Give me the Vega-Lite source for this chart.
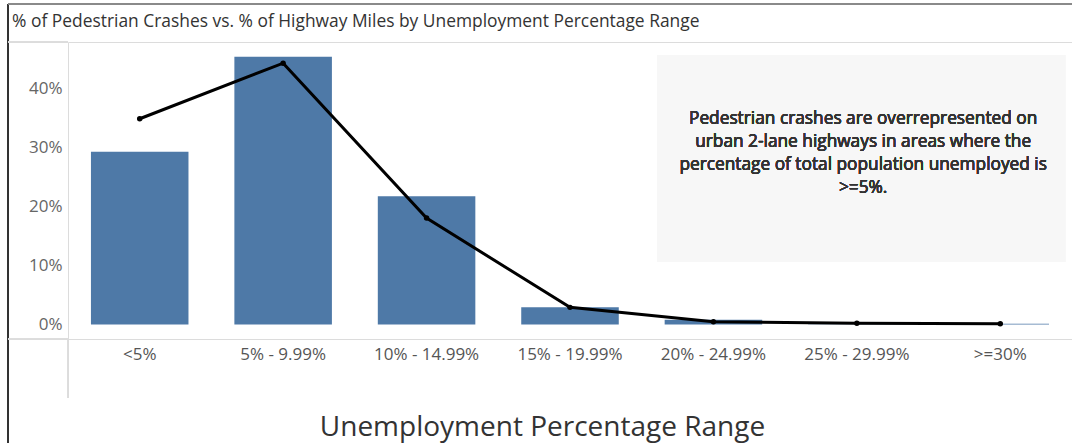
{
  "$schema": "https://vega.github.io/schema/vega-lite/v6.json",
  "autosize": "none",
  "width": 1004,
  "height": 297,
  "padding": {"left": 68, "top": 42, "right": 0, "bottom": 104},
  "background": "white",
  "title": {
    "text": "% of Pedestrian Crashes vs. % of Highway Miles by Unemployment Percentage Range",
    "anchor": "start",
    "dx": 5,
    "offset": 0,
    "dy": 27,
    "font": "Open Sans",
    "fontSize": 17.4,
    "fontWeight": "normal",
    "color": "#333333"
  },
  "config": {
    "view": {"stroke": "#dcdcdc", "strokeWidth": 1},
    "font": "Open Sans"
  },
  "data": {
    "values": [
      {"range": "<5%", "crashes": 0.292, "miles": 0.348},
      {"range": "5% - 9.99%", "crashes": 0.453, "miles": 0.442},
      {"range": "10% - 14.99%", "crashes": 0.217, "miles": 0.180},
      {"range": "15% - 19.99%", "crashes": 0.029, "miles": 0.029},
      {"range": "20% - 24.99%", "crashes": 0.008, "miles": 0.0045},
      {"range": "25% - 29.99%", "crashes": 0.0003, "miles": 0.002},
      {"range": ">=30%", "crashes": 0.0015, "miles": 0.0012}
    ]
  },
  "resolve": {"scale": {"x": "independent"}, "axis": {"x": "independent"}},
  "layer": [
    {
      "layer": [
        {
          "mark": {"type": "rect", "fill": "#f7f7f7"},
          "encoding": {
            "x": {"datum": 4.107, "type": "quantitative", "scale": {"domain": [0, 7], "nice": false, "zero": false}, "axis": null},
            "x2": {"datum": 6.953},
            "y": {"datum": 0.456, "type": "quantitative"},
            "y2": {"datum": 0.1058}
          }
        },
        {
          "mark": {"type": "text", "align": "center", "baseline": "middle", "lineHeight": 23, "fontSize": 17.3, "fontWeight": 500, "color": "#333333", "font": "Open Sans"},
          "encoding": {
            "x": {"datum": 5.544, "type": "quantitative"},
            "y": {"datum": 0.348, "type": "quantitative"},
            "text": {"value": ["Pedestrian crashes are overrepresented on", "urban 2-lane highways in areas where the", "percentage of total population unemployed is", ">=5%."]}
          }
        },
        {
          "mark": {"type": "rule", "stroke": "#333333", "strokeWidth": 1.5},
          "encoding": {
            "x": {"datum": -0.418, "type": "quantitative"},
            "y": {"datum": 0.542, "type": "quantitative"},
            "y2": {"datum": -0.2004}
          }
        },
        {
          "mark": {"type": "rule", "stroke": "#8a8a8a", "strokeWidth": 2},
          "encoding": {
            "x": {"datum": -0.418, "type": "quantitative"},
            "x2": {"datum": 7},
            "y": {"datum": 0.542, "type": "quantitative"}
          }
        },
        {
          "mark": {"type": "rule", "stroke": "#dcdcdc", "strokeWidth": 1},
          "encoding": {
            "x": {"datum": -0.418, "type": "quantitative"},
            "x2": {"datum": 0},
            "y": {"datum": 0.4778, "type": "quantitative"}
          }
        },
        {
          "mark": {"type": "rule", "stroke": "#dcdcdc", "strokeWidth": 1},
          "encoding": {
            "x": {"datum": -0.418, "type": "quantitative"},
            "x2": {"datum": 0},
            "y": {"datum": -0.0245, "type": "quantitative"}
          }
        },
        {
          "mark": {"type": "rule", "stroke": "#dcdcdc", "strokeWidth": 1},
          "encoding": {
            "x": {"datum": 0, "type": "quantitative"},
            "y": {"datum": -0.0245, "type": "quantitative"},
            "y2": {"datum": -0.1243}
          }
        }
      ]
    },
    {
      "encoding": {
        "x": {
          "field": "range",
          "type": "nominal",
          "sort": null,
          "scale": {"paddingInner": 0.32, "paddingOuter": 0.16},
          "axis": {
            "orient": "bottom",
            "labelAngle": 0,
            "domain": false,
            "ticks": false,
            "labelPadding": 7,
            "labelFontSize": 17,
            "labelColor": "#555555",
            "labelFont": "Open Sans",
            "title": "Unemployment Percentage Range",
            "titleFont": "Open Sans",
            "titleFontSize": 28,
            "titleFontWeight": "normal",
            "titleColor": "#333333",
            "titleX": 474,
            "titleY": 88,
            "titleBaseline": "middle"
          }
        }
      },
      "layer": [
        {
          "mark": {"type": "bar", "color": "#4e79a7"},
          "encoding": {
            "y": {
              "field": "crashes",
              "type": "quantitative",
              "scale": {"domain": [-0.0245, 0.4778], "nice": false, "zero": false},
              "axis": {
                "values": [0, 0.1, 0.2, 0.3, 0.4],
                "format": ".0%",
                "grid": false,
                "domain": false,
                "ticks": false,
                "labelPadding": 6,
                "labelFontSize": 17,
                "labelColor": "#666666",
                "labelFont": "Open Sans",
                "title": null
              }
            },
            "y2": {"datum": 0}
          }
        },
        {
          "mark": {"type": "rule", "stroke": "#d0d0d0", "strokeDash": [1, 3]},
          "encoding": {"y": {"datum": 0, "type": "quantitative"}}
        },
        {
          "mark": {"type": "line", "color": "#000000", "strokeWidth": 3, "point": {"filled": true, "color": "#000000", "size": 30}},
          "encoding": {
            "y": {"field": "miles", "type": "quantitative"}
          }
        }
      ]
    }
  ]
}
